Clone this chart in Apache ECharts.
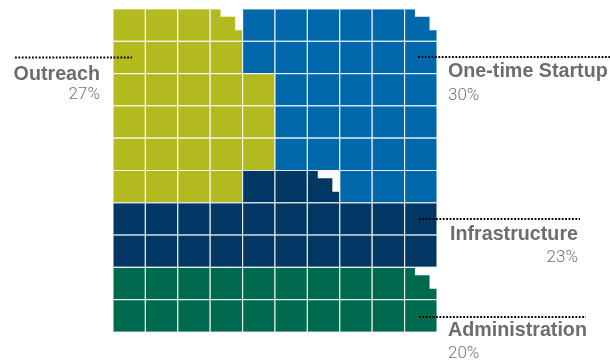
<!DOCTYPE html>
<html>
<head>
<meta charset="utf-8">
<script src="https://cdn.jsdelivr.net/npm/echarts@6/dist/echarts.min.js"></script>
<style>
html,body{margin:0;padding:0;background:#fff;}
#chart{width:610px;height:363px;}
</style>
</head>
<body>
<div id="chart"></div>
<script>
// ---- data ----
var categories = ['Outreach', 'One-time Startup', 'Infrastructure', 'Administration'];
var values = [27, 30, 23, 20];
var colors = ['#B3BA1F', '#0068AB', '#003863', '#006A4F'];
// cell map of the 10x10 waffle (row by row, category index per cell)
var cellRows = [
  '0000111111',
  '0000111111',
  '0000011111',
  '0000011111',
  '0000011111',
  '0000222111',
  '2222222222',
  '2222222222',
  '3333333333',
  '3333333333'
];
// cells carrying the small stepped notch [col, row]
var notchCells = [[3, 0], [9, 0], [6, 5], [9, 8]];

// ---- build series data ----
var cellData = [];
cellRows.forEach(function (row, r) {
  for (var c = 0; c < row.length; c++) {
    cellData.push([c, r, parseInt(row[c], 10)]);
  }
});

var chart = echarts.init(document.getElementById('chart'), null, {renderer: 'canvas'});

var labelFont = '"Liberation Sans", Arial, sans-serif';
var pctFont = 'Roboto, "Liberation Sans", sans-serif';
var labelColor = '#6c6d6f';
var pctColor = '#737373';

function label(text, x, y, align, bold) {
  return {
    type: 'text',
    x: x, y: y,
    style: {
      text: text,
      fill: bold ? labelColor : pctColor,
      font: bold ? ('bold 19.7px ' + labelFont) : ('300 17px ' + pctFont),
      textAlign: align,
      textVerticalAlign: 'middle'
    },
    z: 10
  };
}
function dots(x1, x2, y) {
  return {
    type: 'line',
    shape: {x1: x1, y1: y, x2: x2, y2: y},
    style: {stroke: '#000', lineWidth: 2, lineDash: [1.8, 1.6]},
    z: 10
  };
}

var option = {
  animation: false,
  backgroundColor: '#fff',
  grid: {left: 113, top: 9, width: 324, height: 323},
  xAxis: {type: 'value', min: 0, max: 10, show: false},
  yAxis: {type: 'value', min: 0, max: 10, inverse: true, show: false},
  series: [
    {
      type: 'custom',
      coordinateSystem: 'cartesian2d',
      data: cellData,
      renderItem: function (params, api) {
        var c = api.value(0), r = api.value(1), k = api.value(2);
        var p0 = api.coord([c, r]);
        var p1 = api.coord([c + 1, r + 1]);
        return {
          type: 'rect',
          shape: {x: p0[0], y: p0[1], width: p1[0] - p0[0], height: p1[1] - p0[1]},
          style: {fill: colors[k], stroke: 'rgba(255,255,255,0.8)', lineWidth: 1.2}
        };
      },
      z: 2
    },
    {
      type: 'custom',
      coordinateSystem: 'cartesian2d',
      data: notchCells,
      renderItem: function (params, api) {
        var c = api.value(0), r = api.value(1);
        var p0 = api.coord([c, r]);
        var p1 = api.coord([c + 1, r + 1]);
        var w = p1[0] - p0[0], h = p1[1] - p0[1];
        var X = function (f) { return p0[0] + f * w; };
        var Y = function (f) { return p0[1] + f * h; };
        return {
          type: 'polygon',
          shape: {points: [
            [X(0.32), Y(0)], [X(1), Y(0)], [X(1), Y(0.66)],
            [X(0.77), Y(0.66)], [X(0.77), Y(0.24)], [X(0.32), Y(0.24)]
          ]},
          style: {fill: '#ffffff'}
        };
      },
      z: 3
    }
  ],
  graphic: [
    dots(15, 132, 57.5),
    label(categories[0], 100, 75, 'right', true),
    label(values[0] + '%', 100, 94.5, 'right', false),

    dots(418, 610, 57),
    label(categories[1], 448, 71.5, 'left', true),
    label(values[1] + '%', 448, 96, 'left', false),

    dots(419, 580, 219),
    label(categories[2], 578, 235, 'right', true),
    label(values[2] + '%', 578, 258, 'right', false),

    dots(419, 586, 317),
    label(categories[3], 448, 330.5, 'left', true),
    label(values[3] + '%', 448, 354, 'left', false)
  ]
};
chart.setOption(option);
</script>
</body>
</html>
